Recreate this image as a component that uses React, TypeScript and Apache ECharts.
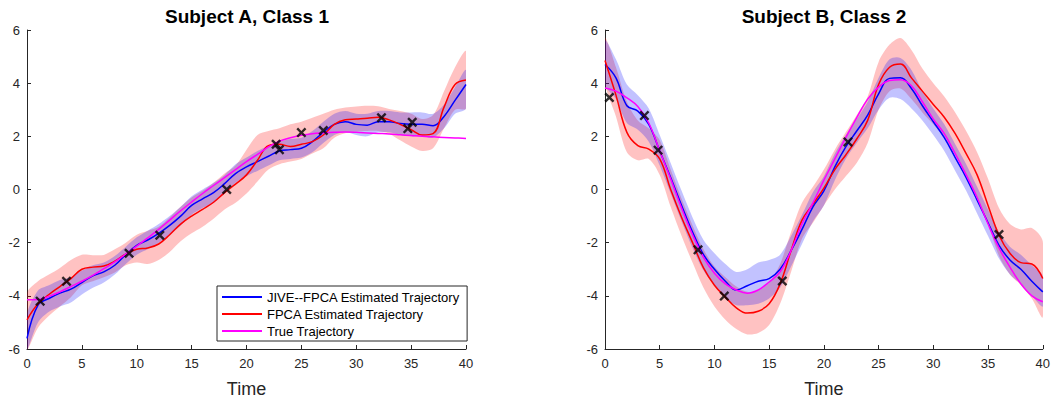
import React, { useEffect, useRef } from "react";
import * as echarts from "echarts";

// ---- data ----
const T = [0,1,2,3,4,5,6,7,8,9,10,11,12,13,14,15,16,17,18,19,20,21,22,23,24,25,26,27,28,29,30,31,32,33,34,35,36,37,38,39,40];

// Subject A, Class 1
const A_JIVE = [-5.6,-4.35,-4.1,-3.9,-3.75,-3.5,-3.25,-3.1,-2.85,-2.45,-2.1,-1.9,-1.65,-1.35,-1.0,-0.6,-0.35,-0.12,0.22,0.6,0.85,1.05,1.25,1.45,1.5,1.55,1.8,2.15,2.45,2.55,2.45,2.42,2.55,2.55,2.48,2.45,2.45,2.4,2.75,3.35,3.95];
const A_FPCA = [-4.9,-4.3,-3.95,-3.65,-3.35,-3.0,-2.92,-2.88,-2.7,-2.43,-2.25,-2.2,-2.05,-1.7,-1.3,-1.0,-0.75,-0.48,-0.12,0.2,0.55,1.1,1.65,1.7,1.62,1.7,1.8,2.05,2.45,2.62,2.65,2.68,2.72,2.62,2.45,2.25,2.05,2.1,3.1,3.95,4.12];
const A_TRUE = [-4.15,-4.14,-4.02,-3.85,-3.65,-3.45,-3.23,-2.98,-2.72,-2.43,-2.13,-1.82,-1.5,-1.15,-0.8,-0.47,-0.15,0.15,0.45,0.75,1.05,1.32,1.6,1.82,1.95,2.04,2.1,2.13,2.15,2.16,2.15,2.13,2.11,2.09,2.06,2.03,2.0,1.98,1.96,1.94,1.92];
const A_JIVE_HI = [-4.7,-3.8,-3.6,-3.4,-3.3,-3.05,-2.85,-2.75,-2.5,-2.15,-1.8,-1.55,-1.3,-1.0,-0.65,-0.25,0.0,0.25,0.55,0.95,1.2,1.45,1.65,1.8,1.9,1.95,2.2,2.55,2.85,2.95,2.85,2.85,2.95,2.95,2.9,2.9,2.9,2.85,3.2,3.85,4.5];
const A_JIVE_LO = [-6.0,-5.0,-4.6,-4.4,-4.25,-3.95,-3.7,-3.5,-3.2,-2.8,-2.45,-2.25,-2.0,-1.7,-1.35,-0.95,-0.7,-0.5,-0.15,0.25,0.5,0.7,0.9,1.1,1.15,1.2,1.4,1.75,2.05,2.15,2.05,2.0,2.15,2.15,2.05,2.0,2.0,1.95,2.3,2.85,3.05];
const A_FPCA_HI = [-3.9,-3.45,-3.2,-2.95,-2.65,-2.45,-2.47,-2.46,-2.25,-2.0,-1.7,-1.55,-1.4,-1.05,-0.65,-0.3,-0.05,0.25,0.6,0.9,1.5,2.05,2.2,2.3,2.45,2.55,2.7,2.85,3.0,3.08,3.12,3.15,3.13,3.03,2.95,2.85,2.65,2.8,3.7,4.6,5.2];
const A_FPCA_LO = [-6.0,-5.2,-4.75,-4.4,-4.05,-3.6,-3.45,-3.3,-3.12,-2.85,-2.75,-2.8,-2.65,-2.35,-1.95,-1.65,-1.4,-1.1,-0.75,-0.5,-0.15,0.3,0.75,0.95,1.05,1.15,1.35,1.55,1.95,2.12,2.18,2.2,2.2,2.1,1.85,1.62,1.45,1.55,2.3,3.0,3.05];
const A_OBS_T = [1.2,3.6,9.3,12.1,18.2,22.7,23.0,25.0,27.0,32.3,34.7,35.1];
const A_OBS_V = [-4.2,-3.45,-2.4,-1.72,0.0,1.7,1.5,2.14,2.22,2.7,2.29,2.53];

// Subject B, Class 2
const B_JIVE = [4.7,4.2,3.15,2.95,2.45,1.45,0.45,-0.6,-1.6,-2.45,-3.0,-3.45,-3.78,-3.62,-3.45,-3.35,-3.0,-2.3,-1.5,-0.65,-0.05,0.85,1.6,2.2,2.8,3.6,4.18,4.2,3.8,3.15,2.55,1.95,1.2,0.45,-0.4,-1.25,-2.1,-2.65,-3.0,-3.45,-3.85];
const B_FPCA = [4.85,3.55,2.15,1.65,1.52,1.15,0.0,-1.05,-2.0,-2.95,-3.6,-4.05,-4.45,-4.65,-4.58,-4.3,-3.55,-2.3,-1.15,-0.55,0.05,0.75,1.3,1.9,2.6,3.95,4.6,4.72,4.2,3.7,3.2,2.72,2.1,1.35,0.55,-0.6,-1.72,-2.4,-2.75,-2.8,-3.35];
const B_TRUE = [3.82,3.7,3.45,3.12,2.5,1.45,0.4,-0.7,-1.7,-2.55,-3.15,-3.55,-3.78,-3.9,-3.78,-3.48,-3.1,-2.3,-1.3,-0.5,0.35,1.15,1.95,2.7,3.4,3.85,4.1,4.13,3.9,3.3,2.65,2.1,1.35,0.55,-0.3,-1.3,-2.2,-2.92,-3.55,-4.0,-4.22];
const B_JIVE_HI = [5.6,4.9,3.95,3.55,3.05,2.05,1.0,-0.05,-1.05,-1.9,-2.4,-2.8,-3.1,-3.0,-2.75,-2.65,-2.45,-1.75,-0.95,-0.1,0.5,1.35,2.05,2.65,3.3,4.2,4.9,4.95,4.5,3.7,3.05,2.45,1.7,0.95,0.1,-0.75,-1.6,-2.15,-2.45,-2.85,-3.25];
const B_JIVE_LO = [3.95,3.4,2.5,2.25,1.8,0.9,-0.15,-1.2,-2.2,-3.05,-3.6,-4.1,-4.35,-4.35,-4.3,-4.1,-3.7,-2.9,-2.05,-1.2,-0.6,0.35,1.15,1.75,2.3,3.0,3.45,3.4,3.05,2.6,2.05,1.45,0.7,-0.05,-0.9,-1.75,-2.6,-3.2,-3.55,-4.0,-4.4];
const B_FPCA_HI = [5.7,4.6,3.3,2.6,2.3,1.85,0.75,-0.35,-1.35,-2.25,-2.9,-3.3,-3.65,-3.85,-3.8,-3.5,-2.8,-1.6,-0.5,0.1,0.75,1.5,2.15,2.8,3.5,4.8,5.45,5.7,5.25,4.55,4.0,3.5,2.9,2.2,1.4,0.4,-0.7,-1.3,-1.5,-1.45,-1.95];
const B_FPCA_LO = [4.0,2.75,1.4,1.1,1.15,0.55,-0.65,-1.75,-2.75,-3.7,-4.4,-4.9,-5.25,-5.45,-5.4,-5.1,-4.3,-3.1,-1.85,-1.25,-0.6,0.0,0.5,1.0,1.75,3.0,3.7,3.8,3.4,2.9,2.45,1.95,1.3,0.55,-0.3,-1.3,-2.5,-3.2,-3.6,-4.1,-4.8];
const B_OBS_T = [0.4,3.6,4.85,8.5,10.9,16.2,22.2,36.0];
const B_OBS_V = [3.46,2.78,1.48,-2.27,-4.01,-3.44,1.79,-1.69];

const TITLES = ["Subject A, Class 1", "Subject B, Class 2"];
const X_NAME = "Time";
const NAMES = ["JIVE--FPCA Estimated Trajectory", "FPCA Estimated Trajectory", "True Trajectory"];
const COLORS = ["#0000ff", "#ff0000", "#ff00ff"];

const FONT = "'Liberation Sans', Arial, Helvetica, sans-serif";
const AXIS = "#262626";
const X_MARK = "path://M0,1.7L1.7,0L5,3.3L8.3,0L10,1.7L6.7,5L10,8.3L8.3,10L5,6.7L1.7,10L0,8.3L3.3,5Z";

const zip = (xs: number[], ys: number[]) => xs.map((x, i) => [x, ys[i]]);

function band(lo: number[], hi: number[], color: string, gi: number, z: number) {
  return {
    type: "custom",
    xAxisIndex: gi,
    yAxisIndex: gi,
    clip: true,
    silent: true,
    z,
    data: T.map((t, i) => [t, lo[i], hi[i]]),
    encode: { x: 0, y: [1, 2] },
    renderItem: (params: any, api: any) => {
      if (params.dataIndex !== 0) return null;
      const pts: number[][] = [];
      for (let i = 0; i < T.length; i++) pts.push(api.coord([T[i], hi[i]]));
      for (let i = T.length - 1; i >= 0; i--) pts.push(api.coord([T[i], lo[i]]));
      return { type: "polygon", shape: { points: pts, smooth: 0.3 }, style: { fill: color } };
    },
  };
}

function lineS(name: string, vals: number[], color: string, gi: number, z: number) {
  return {
    type: "line",
    name,
    xAxisIndex: gi,
    yAxisIndex: gi,
    data: zip(T, vals),
    showSymbol: false,
    smooth: 0.4,
    clip: true,
    z,
    lineStyle: { width: 1.5, color },
    itemStyle: { color },
  };
}

function marks(ts: number[], vs: number[], gi: number) {
  return {
    type: "scatter",
    xAxisIndex: gi,
    yAxisIndex: gi,
    data: zip(ts, vs),
    symbol: X_MARK,
    symbolSize: 10,
    z: 10,
    itemStyle: { color: "#000" },
  };
}

export default function App() {
  const ref = useRef<HTMLDivElement>(null);
  useEffect(() => {
    document.body.style.margin = "0";
    const chart = echarts.init(ref.current!, null, { renderer: "svg" });
    const grids = [
      { left: 27, top: 30, width: 439, height: 323 },
      { left: 605, top: 30, width: 438, height: 323 },
    ];
    const xAxis = [0, 1].map((i) => ({
      type: "value",
      gridIndex: i,
      min: 0,
      max: 40,
      interval: 5,
      name: X_NAME,
      nameLocation: "middle",
      nameGap: 31,
      nameTextStyle: { fontSize: 18, fontFamily: FONT, color: AXIS },
      axisLine: { show: true, onZero: false, lineStyle: { color: AXIS, width: 1 } },
      axisTick: { show: true, inside: true, length: 4, lineStyle: { color: AXIS } },
      axisLabel: { fontSize: 13, fontFamily: FONT, color: AXIS, margin: 8 },
      splitLine: { show: false },
    }));
    const yAxis = [0, 1].map((i) => ({
      type: "value",
      gridIndex: i,
      min: -6,
      max: 6,
      interval: 2,
      axisLine: { show: true, onZero: false, lineStyle: { color: AXIS, width: 1 } },
      axisTick: { show: true, inside: true, length: 4, lineStyle: { color: AXIS } },
      axisLabel: { fontSize: 13, fontFamily: FONT, color: AXIS, margin: 7 },
      splitLine: { show: false },
    }));
    const series: any[] = [
      band(A_FPCA_LO, A_FPCA_HI, "rgba(255,0,0,0.24)", 0, 1),
      band(A_JIVE_LO, A_JIVE_HI, "rgba(0,0,255,0.24)", 0, 2),
      lineS(NAMES[0], A_JIVE, COLORS[0], 0, 3),
      lineS(NAMES[1], A_FPCA, COLORS[1], 0, 4),
      lineS(NAMES[2], A_TRUE, COLORS[2], 0, 5),
      marks(A_OBS_T, A_OBS_V, 0),
      band(B_FPCA_LO, B_FPCA_HI, "rgba(255,0,0,0.24)", 1, 1),
      band(B_JIVE_LO, B_JIVE_HI, "rgba(0,0,255,0.24)", 1, 2),
      lineS(NAMES[0], B_JIVE, COLORS[0], 1, 3),
      lineS(NAMES[1], B_FPCA, COLORS[1], 1, 4),
      lineS(NAMES[2], B_TRUE, COLORS[2], 1, 5),
      marks(B_OBS_T, B_OBS_V, 1),
    ];
    chart.setOption({
      animation: false,
      grid: grids,
      xAxis,
      yAxis,
      series,
      legend: {
        data: NAMES,
        orient: "vertical",
        left: 217,
        top: 286,
        icon: "rect",
        itemWidth: 40,
        itemHeight: 2,
        itemGap: 3,
        padding: [4, 7, 3, 5],
        borderColor: AXIS,
        borderWidth: 1,
        backgroundColor: "#fff",
        selectedMode: false,
        z: 20,
        textStyle: { fontFamily: FONT, fontSize: 13, color: "#000", lineHeight: 14 },
      },
      graphic: [
        { type: "text", x: 247, y: 16, z: 30, style: { text: TITLES[0], textAlign: "center", textVerticalAlign: "middle", font: `bold 19px ${FONT}`, fill: "#000" } },
        { type: "text", x: 824, y: 16, z: 30, style: { text: TITLES[1], textAlign: "center", textVerticalAlign: "middle", font: `bold 19px ${FONT}`, fill: "#000" } },
      ],
    });
    return () => chart.dispose();
  }, []);
  return <div ref={ref} style={{ width: 1053, height: 403 }} />;
}
